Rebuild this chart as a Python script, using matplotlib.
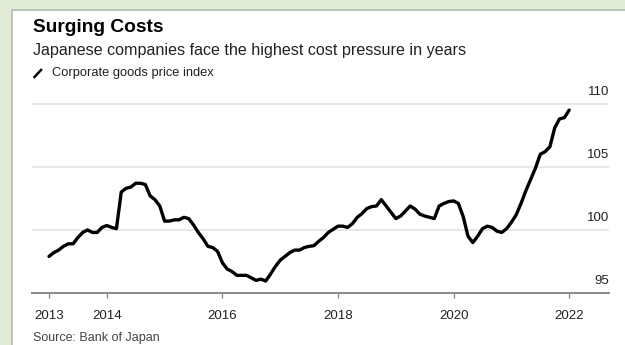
import numpy as np
import matplotlib
matplotlib.use("Agg")
import matplotlib.pyplot as plt
import matplotlib.patches as mpatches
import matplotlib.transforms as mtransforms

plt.rcParams['font.family'] = ['Liberation Sans', 'DejaVu Sans']

# corporate goods price index, monthly from Jan 2013 to Jan 2022
start_year = 2013
cgpi = [
    97.9, 98.2, 98.4, 98.7, 98.9, 98.9, 99.4, 99.8, 100.0, 99.8, 99.8, 100.2,
    100.35, 100.2, 100.1, 103.0, 103.3, 103.4, 103.7, 103.7, 103.6, 102.7, 102.4, 101.9,
    100.7, 100.7, 100.8, 100.8, 101.0, 100.9, 100.4, 99.8, 99.3, 98.7, 98.6, 98.3,
    97.4, 96.9, 96.7, 96.4, 96.4, 96.4, 96.2, 96.0, 96.1, 95.95, 96.5, 97.1,
    97.6, 97.9, 98.2, 98.4, 98.4, 98.6, 98.7, 98.75, 99.1, 99.4, 99.8, 100.05,
    100.3, 100.3, 100.2, 100.5, 101.0, 101.3, 101.7, 101.85, 101.9, 102.4, 101.9, 101.4,
    100.9, 101.1, 101.5, 101.9, 101.65, 101.25, 101.1, 101.0, 100.9, 101.9, 102.1, 102.25,
    102.3, 102.1, 101.05, 99.5, 99.0, 99.5, 100.1, 100.3, 100.2, 99.9, 99.8, 100.1,
    100.6, 101.2, 102.1, 103.1, 104.0, 104.9, 106.0, 106.2, 106.6, 108.1, 108.8, 108.9,
    109.5,
]
x_ticks = [2013, 2014, 2016, 2018, 2020, 2022]
y_ticks = [95, 100, 105, 110]

title = "Surging Costs"
subtitle = "Japanese companies face the highest cost pressure in years"
legend_label = "Corporate goods price index"
source = "Source: Bank of Japan"

bg_green = "#dfebd4"
txt = "#222222"
grid_c = "#e4e4e4"
axis_c = "#8a8a8a"

W, H = 625, 345
fig = plt.figure(figsize=(W / 100, H / 100), dpi=100)
fig.patch.set_facecolor(bg_green)

# white card with a thin grey edge, kept behind the axes
card = mpatches.Rectangle((12 / W, -0.01), 1, 1.01 - 10 / H, transform=fig.transFigure,
                          facecolor="white", edgecolor="#b4bcab", linewidth=1.2,
                          zorder=-10)
fig.patches.append(card)

ax = fig.add_axes([32 / W, 1 - 293 / H, (609 - 32) / W, (293 - 100) / H])
ax.set_facecolor("none")

t = start_year + np.arange(len(cgpi)) / 12
ax.plot(t, cgpi, color="black", linewidth=2.4, solid_joinstyle="round",
        solid_capstyle="round", zorder=3)

ax.set_xlim(2012.706, 2022.689)
ax.set_ylim(95, 110.3)

for s in ["top", "right", "left"]:
    ax.spines[s].set_visible(False)
ax.spines["bottom"].set_color(axis_c)
ax.spines["bottom"].set_linewidth(1.4)

for v in y_ticks[1:]:
    ax.axhline(v, color=grid_c, linewidth=1.2, zorder=1)

ax.set_yticks([])
ax.set_xticks(x_ticks)
ax.set_xticklabels([str(y) for y in x_ticks], fontsize=9.5, color=txt)
ax.tick_params(axis="x", length=3.5, width=1, color=axis_c, pad=8.5)

# y labels sit just above their gridlines on the right
trans = mtransforms.blended_transform_factory(ax.transAxes, ax.transData)
for v in y_ticks:
    ax.annotate(str(v), xy=(1, v), xycoords=trans, xytext=(0, 4),
                textcoords="offset points", ha="right", va="bottom",
                fontsize=9.5, color=txt)

fig.text(33 / W, 1 - 27 / H, title, fontsize=13.8, fontweight="bold",
         color="black", ha="left", va="center")
fig.text(33 / W, 1 - 51 / H, subtitle, fontsize=11.6, color=txt,
         ha="left", va="center")

# legend: a short slanted stroke then the label
fig.add_artist(plt.Line2D([34.5 / W, 41 / W], [1 - 77 / H, 1 - 70 / H],
                          color="black", linewidth=1.8,
                          transform=fig.transFigure))
fig.text(52 / W, 1 - 73 / H, legend_label, fontsize=9.3, color=txt,
         ha="left", va="center")

fig.text(33 / W, 1 - 338 / H, source, fontsize=9, color="#444444",
         ha="left", va="center")

fig.savefig("out.png", dpi=100, facecolor=fig.get_facecolor())
